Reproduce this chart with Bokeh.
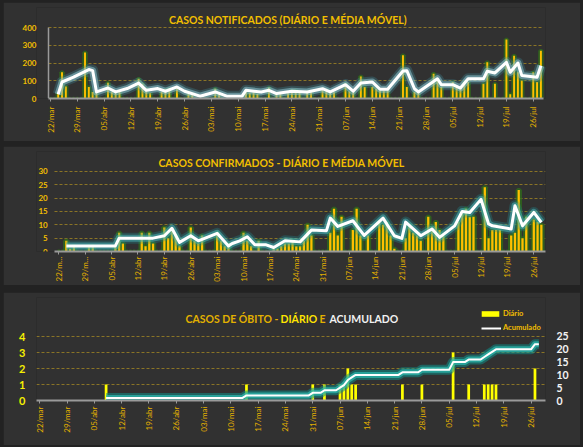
import numpy as np
from bokeh.plotting import figure
from bokeh.layouts import column
from bokeh.models import FixedTicker, Label, Legend, LegendItem, LinearAxis, Range1d
from bokeh.embed import file_html
from bokeh.resources import INLINE

# ---------------- data ----------------
# day index 0 = 22/mar ... 128 = 28/jul
tick_days = [0, 7, 14, 21, 28, 35, 42, 49, 56, 63, 70, 77, 84, 91, 98, 105, 112, 119, 126]
tick_labels = ["22/mar", "29/mar", "05/abr", "12/abr", "19/abr", "26/abr", "03/mai", "10/mai",
               "17/mai", "24/mai", "31/mai", "07/jun", "14/jun", "21/jun", "28/jun", "05/jul",
               "12/jul", "19/jul", "26/jul"]
tick_labels_confirmed = ["22/m...", "29/m...", "05/abr", "12/abr", "19/abr", "26/abr", "03/mai",
                         "10/mai", "17/mai", "24/mai", "31/mai", "07/jun", "14/jun", "21/jun",
                         "28/jun", "05/jul", "12/jul", "19/jul", "26/jul"]

days = list(range(129))

notified_daily = [
    0, 0, 30, 148, 68, 0, 0, 0, 0, 259,
    65, 37, 30, 0, 0, 89, 37, 30, 37, 0,
    0, 0, 0, 111, 83, 55, 30, 0, 0, 37,
    50, 55, 0, 60, 0, 0, 25, 25, 0, 0,
    0, 0, 0, 55, 30, 0, 0, 0, 0, 0,
    0, 37, 30, 35, 25, 0, 0, 60, 0, 30,
    25, 0, 30, 45, 46, 40, 0, 40, 35, 0,
    0, 55, 50, 30, 35, 0, 0, 83, 40, 35,
    0, 124, 65, 0, 65, 55, 45, 45, 45, 0,
    0, 0, 244, 65, 0, 37, 37, 0, 0, 0,
    139, 102, 65, 0, 0, 93, 65, 55, 93, 93,
    0, 0, 0, 83, 204, 0, 83, 0, 0, 333,
    24, 241, 148, 102, 0, 0, 148, 93, 269]
notified_ma_days = [2, 3, 6, 10, 11, 12, 15, 17, 20, 23, 25, 28, 30, 33, 35, 39, 43, 46, 50, 51,
                    55, 57, 59, 63, 67, 71, 73, 77, 79, 81, 84, 86, 88, 92, 93, 95, 96, 101, 102,
                    105, 107, 109, 113, 114, 116, 119, 120, 122, 123, 127, 128]
notified_ma_vals = [24, 93, 120, 163, 157, 37, 59, 37, 56, 87, 46, 56, 41, 65, 41, 13, 37, 13, 13, 46,
                    37, 46, 28, 41, 37, 55, 37, 78, 41, 87, 93, 52, 52, 155, 157, 55, 37, 111, 78,
                    78, 59, 111, 111, 154, 144, 204, 148, 200, 130, 120, 185]

confirmed_daily = [
    0, 0, 4, 1, 2, 0, 0, 0, 2, 2,
    0, 0, 0, 0, 0, 2, 7, 3, 0, 0,
    0, 0, 7, 2, 7, 3, 0, 0, 9, 5,
    8, 6, 2, 0, 0, 9, 4, 3, 6, 0,
    0, 0, 7, 4, 2, 3, 0, 0, 0, 7,
    4, 2, 0, 4, 0, 0, 0, 1, 1, 2,
    3, 3, 4, 2, 2, 4, 10, 6, 0, 0,
    0, 0, 7, 16, 6, 13, 0, 0, 8, 16,
    6, 0, 6, 0, 0, 11, 10, 11, 6, 1,
    0, 0, 5, 10, 7, 6, 4, 0, 13, 9,
    11, 8, 6, 0, 0, 0, 11, 14, 16, 13,
    13, 0, 0, 24, 5, 8, 8, 8, 0, 0,
    6, 7, 23, 5, 13, 0, 12, 11, 10]
confirmed_ma_days = [2, 15, 16, 25, 28, 30, 32, 35, 37, 42, 45, 46, 48, 50, 52, 55, 57, 60, 64, 67,
                     71, 72, 74, 78, 81, 86, 89, 91, 92, 96, 99, 101, 105, 107, 109, 112, 114, 115,
                     120, 121, 123, 126, 128]
confirmed_ma_vals = [2.1, 2.1, 5, 5, 5.9, 8.7, 3.4, 5.9, 4, 6.8, 2.1, 3, 4, 5.5, 2.5, 2.5, 1.5, 4,
                     3.6, 8, 7.8, 12.5, 9.4, 11.5, 6, 12.5, 5.9, 4.9, 11, 5.9, 8.4, 5.3, 9.6, 15,
                     14.6, 19.5, 10.3, 9.6, 8.4, 17.1, 9.6, 14.6, 10.9]

death_days = [17, 53, 70, 73, 77, 78, 79, 80, 81, 93, 98, 106, 110, 114, 115, 116, 117, 127]
death_vals = [1, 1, 1, 1, 1, 1, 2, 1, 1, 1, 1, 3, 1, 1, 1, 1, 1, 2]
cum_days = [17, 52, 53, 69, 70, 72, 73, 76, 77, 78, 79, 80, 81, 92, 93, 97, 98, 105, 106, 109,
            110, 113, 114, 115, 116, 117, 126, 127, 128]
cum_vals = [1, 1, 2, 2, 3, 3, 4, 4, 5, 6, 8, 9, 10, 10, 11, 11, 12, 12, 15, 15,
            16, 16, 17, 18, 19, 20, 20, 22, 22]

# ---------------- style ----------------
FONT = "Lato"
BG = "#313131"
PAGE_BG = "#222222"
GOLD = "#f2bf00"
TICK_GOLD = "#e3b000"
GRID = "#8a7426"
AXIS_GRAY = "#9a9a9a"
BAR_GOLD = "#ffc000"
BAR_GLOW = "#2f6a1c"


def base_fig(h, bt, bb, xr, yr, margin):
    # identical left/right borders in all panels (column aligns plot frames)
    p = figure(width=577, height=h, x_range=Range1d(*xr), y_range=Range1d(*yr),
               output_backend="svg", toolbar_location=None, tools="",
               min_border_left=33, min_border_right=35, min_border_top=bt, min_border_bottom=bb,
               background_fill_color=BG, border_fill_color=BG, outline_line_color=None,
               margin=margin)
    p.xgrid.visible = False
    return p


def style_x(p, labels, standoff, bounds):
    ax = p.xaxis[0]
    ax.ticker = FixedTicker(ticks=tick_days)
    ax.major_label_overrides = {d: l for d, l in zip(tick_days, labels)}
    ax.major_label_orientation = np.pi / 2
    ax.major_label_text_color = TICK_GOLD
    ax.major_label_text_font = FONT
    ax.major_label_text_font_size = "8px"
    ax.major_label_standoff = standoff
    ax.axis_line_color = AXIS_GRAY
    ax.axis_line_width = 2
    ax.major_tick_line_color = AXIS_GRAY
    ax.major_tick_out = 3
    ax.major_tick_in = 0
    ax.minor_tick_line_color = None
    ax.bounds = bounds


def style_y(p, ticks, color, size, standoff, loc=None, cross=None):
    ay = p.yaxis[0]
    ay.ticker = FixedTicker(ticks=ticks)
    ay.bounds = (ticks[0], ticks[-1])
    if loc is not None:
        ay.fixed_location = loc
    ay.major_label_text_color = color
    ay.major_label_text_font = FONT
    ay.major_label_text_font_style = "bold"
    ay.major_label_text_font_size = size
    ay.major_label_standoff = standoff
    ay.axis_line_color = None
    ay.major_tick_line_color = None
    ay.major_tick_out = 0
    ay.minor_tick_line_color = None
    g = p.ygrid[0]
    g.ticker = FixedTicker(ticks=[t for t in ticks if t > 0])
    g.grid_line_color = GRID
    g.grid_line_dash = "3 2"
    g.grid_line_width = 1
    if cross is not None:
        try:
            g.cross_bounds = cross
        except Exception:
            pass


def title(p, x, y, text, color=GOLD, align="center"):
    p.add_layout(Label(x=x, y=y, x_units="screen", y_units="screen", text=text,
                       text_align=align, text_baseline="middle", text_font=FONT,
                       text_font_style="bold", text_font_size="10.5px", text_color=color))


def glow_line(p, xs, ys, outer, inner, core_w):
    p.line(xs, ys, line_color=outer, line_width=11, line_alpha=0.3, line_join="round")
    p.line(xs, ys, line_color=inner, line_width=7, line_alpha=0.55, line_join="round")
    return p.line(xs, ys, line_color="white", line_width=core_w, line_join="round")


# ---------------- panel 1 ----------------
# frame extended upward so that the title sits inside the frame (annotations are clipped)
p1 = base_fig(139, 5, 43, (-3.66, 129.2), (0, 512.7), (2, 3, 0, 3))
style_x(p1, tick_labels, 5, (-0.5, 128.7))
style_y(p1, [0, 100, 200, 300, 400], GOLD, "8px", 0, cross=(-0.5, 128.7))
# grey vertical axis line at the start of the category axis (no labels)
p1.add_layout(LinearAxis(fixed_location=-0.5, bounds=(0, 400), ticker=FixedTicker(ticks=[]),
                         axis_line_color=AXIS_GRAY, axis_line_width=1.5,
                         major_tick_line_color=None, minor_tick_line_color=None,
                         major_label_text_alpha=0), "left")
p1.vbar(x=days, top=notified_daily, width=0.5, fill_color=BAR_GLOW, line_color=BAR_GLOW,
        line_width=3.5, line_alpha=0.8)
p1.vbar(x=days, top=notified_daily, width=0.5, fill_color=BAR_GOLD, line_color=None)
glow_line(p1, notified_ma_days, notified_ma_vals, "#3f8fa0", "#8cc4d0", 3)
title(p1, 251.5, 79, "CASOS NOTIFICADOS (DIÁRIO E MÉDIA MÓVEL)")

# ---------------- panel 2 ----------------
p2 = base_fig(139, 5, 34, (-5.92, 129.1), (0, 37.4), (5, 3, 0, 3))
style_x(p2, tick_labels_confirmed, 2, (-1.1, 129.1))
style_y(p2, [0, 5, 10, 15, 20, 25, 30], GOLD, "8px", 7, loc=-1.1, cross=(-1.1, 129.1))
p2.vbar(x=days, top=confirmed_daily, width=0.65, fill_color=BAR_GLOW, line_color=BAR_GLOW,
        line_width=4, line_alpha=0.8)
p2.vbar(x=days, top=confirmed_daily, width=0.6, fill_color=BAR_GOLD, line_color=None)
glow_line(p2, confirmed_ma_days, confirmed_ma_vals, "#1f8e94", "#48b4b8", 3)
title(p2, 245, 88.3, "CASOS CONFIRMADOS - DIÁRIO E MÉDIA MÓVEL")

# ---------------- panel 3 ----------------
p3 = base_fig(153, 5, 45, (-0.85, 129.7), (0, 6.4375), (7, 3, 2, 3))
p3.extra_y_ranges = {"cum": Range1d(0, 40.234)}
style_x(p3, tick_labels, 3, (-0.85, 129.7))
style_y(p3, [0, 1, 2, 3, 4], "#f5f000", "11px", 11)
ar = LinearAxis(y_range_name="cum", ticker=FixedTicker(ticks=[0, 5, 10, 15, 20, 25]),
                bounds=(0, 25),
                major_label_text_color="#f4f4f4", major_label_text_font=FONT,
                major_label_text_font_style="bold", major_label_text_font_size="10.5px",
                major_label_standoff=11, axis_line_color=None, major_tick_line_color=None,
                major_tick_out=0, minor_tick_line_color=None)
p3.add_layout(ar, "right")
bars3 = p3.vbar(x=death_days, top=death_vals, width=0.7, fill_color="#ffff00", line_color=None)
p3.line(cum_days, cum_vals, y_range_name="cum", line_color="#0e8c86", line_width=10,
        line_alpha=0.55, line_join="round")
p3.line(cum_days, cum_vals, y_range_name="cum", line_color="#2cbcb2", line_width=6,
        line_alpha=0.7, line_join="round")
cum_r = p3.line(cum_days, cum_vals, y_range_name="cum", line_color="white", line_width=2,
                line_join="round")

title(p3, 149, 82, "CASOS DE ÓBITO -", "#e2b000", "left")
title(p3, 244, 82, "DIÁRIO", "#ffe400", "left")
title(p3, 283, 82, "E", "#e2b000", "left")
title(p3, 293, 82, "ACUMULADO", "#f2f2f2", "left")

leg_kw = dict(background_fill_alpha=0, border_line_alpha=0, padding=0, margin=0, spacing=0,
              label_text_font=FONT, label_text_font_style="bold", label_text_font_size="7.5px",
              label_text_color=GOLD, label_standoff=2, label_height=8)
leg1 = Legend(items=[LegendItem(label="Diário", renderers=[bars3])], location=(443, 82),
              glyph_width=22, glyph_height=7, **leg_kw)
leg2 = Legend(items=[LegendItem(label="Acumulado", renderers=[cum_r])], location=(445, 68),
              glyph_width=20, glyph_height=8, **leg_kw)
p3.add_layout(leg1)
p3.add_layout(leg2)

layout = column(p1, p2, p3, spacing=0, styles={"background-color": PAGE_BG})
open("out.html", "w").write(file_html(layout, INLINE))
